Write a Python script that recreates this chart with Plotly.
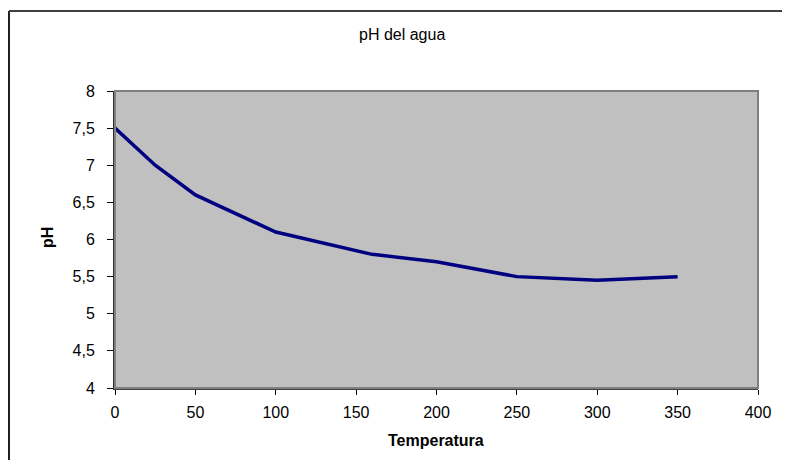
import plotly.graph_objects as go

temperatura = [0, 25, 50, 100, 160, 200, 250, 300, 350]
ph = [7.5, 7.0, 6.6, 6.1, 5.8, 5.7, 5.5, 5.45, 5.5]
x_ticks = [0, 50, 100, 150, 200, 250, 300, 350, 400]
y_ticks = [4, 4.5, 5, 5.5, 6, 6.5, 7, 7.5, 8]

FONT = "Arial, 'Liberation Sans', sans-serif"

fig = go.Figure()
fig.add_trace(go.Scatter(
    x=temperatura, y=ph, mode="lines",
    line=dict(color="#000080", width=3.5),
    showlegend=False, hoverinfo="skip",
))

# page body adds an 8px margin on every side; work in figure pixel coordinates
OFF = 8
W, H = 790 - 2 * OFF, 468 - 2 * OFF
L, T = 115 - OFF, 91 - OFF
pw, ph_ = 758 - 115, 388 - 91
R, B = W - L - pw, H - T - ph_

def px_x(p):
    return (p - OFF - L) / pw

def px_y(p):
    return (T + ph_ - (p - OFF)) / ph_

bx, by = px_x(OFF + 1), px_y(11)

fig.update_layout(
    width=W, height=H,
    margin=dict(l=L, r=R, t=T, b=B),
    paper_bgcolor="white",
    plot_bgcolor="#C0C0C0",
    separators=", ",
    font=dict(family=FONT, size=16, color="black"),
    xaxis=dict(
        range=[0, 400], tickvals=x_ticks, ticks="outside", ticklen=5,
        tickcolor="black", showgrid=False, zeroline=False,
        showline=True, linecolor="#404040", linewidth=2,
        tickfont=dict(size=16), ticklabelstandoff=4,
    ),
    yaxis=dict(
        range=[4, 8], tickvals=y_ticks, ticks="outside", ticklen=6,
        tickcolor="black", showgrid=False, zeroline=False,
        showline=True, linecolor="#303030", linewidth=2,
        tickfont=dict(size=16), ticklabelstandoff=9,
    ),
    shapes=[
        dict(type="rect", xref="paper", yref="paper", x0=0, x1=1, y0=0, y1=1,
             line=dict(color="#808080", width=2), layer="above"),
        dict(type="line", xref="paper", yref="paper",
             x0=bx, x1=bx, y0=px_y(470), y1=by,
             line=dict(color="#202020", width=2), layer="above"),
        dict(type="line", xref="paper", yref="paper",
             x0=bx, x1=px_x(790), y0=by, y1=by,
             line=dict(color="#404040", width=2), layer="above"),
    ],
    annotations=[
        dict(text="pH del agua", xref="paper", yref="paper",
             x=px_x(402), y=px_y(35), showarrow=False,
             font=dict(size=16), xanchor="center", yanchor="middle"),
        dict(text="<b>Temperatura</b>", xref="paper", yref="paper",
             x=px_x(436), y=px_y(440), showarrow=False,
             font=dict(size=16), xanchor="center", yanchor="middle"),
        dict(text="<b>pH</b>", xref="paper", yref="paper",
             x=px_x(47), y=px_y(238), showarrow=False, textangle=-90,
             font=dict(size=16), xanchor="center", yanchor="middle"),
    ],
)

fig.write_html("out.html")
